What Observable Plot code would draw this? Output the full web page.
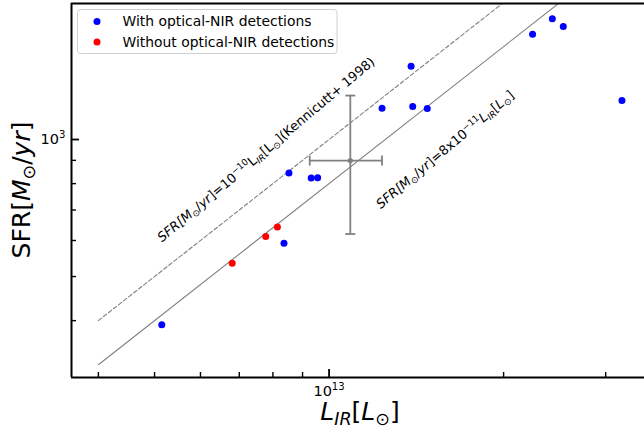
<!DOCTYPE html>
<html><head><meta charset="utf-8">
<script src="https://cdn.jsdelivr.net/npm/d3@7"></script>
<script src="https://cdn.jsdelivr.net/npm/@observablehq/plot@0.6"></script>
<style>
html,body{margin:0;padding:0;background:#fff;}
#chart{width:644px;height:441px;overflow:hidden;}
svg{font-family:"DejaVu Sans",sans-serif;}
</style></head><body><div id="chart"></div>
<script>
// ---- data ----
const withL   = [5.145e12, 8.36e12, 8.527e12, 9.315e12, 9.557e12, 1.234e13, 1.385e13, 1.394e13, 1.477e13, 2.244e13, 2.427e13, 2.535e13, 3.2e13];
const withSFR = [392, 592, 844, 823, 824, 1171, 1449, 1182, 1170, 1704, 1842, 1771, 1218];
const withoutL   = [6.806e12, 7.776e12, 8.145e12];
const withoutSFR = [535, 612, 642];
const errL = [1.088e13], errLlo = [9.26e12], errLhi = [1.234e13];
const errSFR = [899], errSFRlo = [620], errSFRhi = [1249];
const relL = [4e12, 4e13];
const kennicuttCoef = 1e-10, thisCoef = 8e-11;
const xDomain = [3.595e12, 3.5e13];
const yDomain = [300, 1990];
const xMajorTicks = [1e13];
const xMinorTicks = [4e12, 5e12, 6e12, 7e12, 8e12, 9e12, 2e13, 3e13];
const yMajorTicks = [1e3];
const yMinorTicks = [400, 500, 600, 700, 800, 900];
const legendLabels = ["With optical-NIR detections", "Without optical-NIR detections"];
const legendColors = ["blue", "red"];
const annotL = [7.79e12, 1.585e13];
const annotSFR = [950, 950];

// ---- tables ----
const withData = withL.map((L, i) => ({L, SFR: withSFR[i]}));
const withoutData = withoutL.map((L, i) => ({L, SFR: withoutSFR[i]}));
const kData = relL.map(L => ({L, SFR: kennicuttCoef * L}));
const tData = relL.map(L => ({L, SFR: thisCoef * L}));
const err = errL.map((L, i) => ({L, Llo: errLlo[i], Lhi: errLhi[i], SFR: errSFR[i], lo: errSFRlo[i], hi: errSFRhi[i]}));
const annots = annotL.map((L, i) => ({L, SFR: annotSFR[i], id: i}));

const W = 644, H = 441, mL = 71, mR = 0, mT = 3, mB = 64;
const fw = W - mL - mR, fh = H - mT - mB;
const gray = "#808080";
const hCap = {draw(ctx, size) { const r = Math.sqrt(size / Math.PI); ctx.moveTo(-r, 0); ctx.lineTo(r, 0); }};
const vCap = {draw(ctx, size) { const r = Math.sqrt(size / Math.PI); ctx.moveTo(0, -r); ctx.lineTo(0, r); }};

const plot = Plot.plot({
  width: W, height: H,
  marginLeft: mL, marginRight: mR, marginTop: mT, marginBottom: mB,
  style: {fontFamily: "DejaVu Sans", background: "white", overflow: "visible"},
  x: {type: "log", domain: xDomain, axis: null},
  y: {type: "log", domain: yDomain, axis: null},
  marks: [
    Plot.line(kData, {x: "L", y: "SFR", stroke: gray, strokeWidth: 1.1, strokeDasharray: "4,2.4", clip: true}),
    Plot.line(tData, {x: "L", y: "SFR", stroke: gray, strokeWidth: 1.1, clip: true}),
    Plot.ruleX(err, {x: "L", y1: "lo", y2: "hi", stroke: gray, strokeWidth: 1.8}),
    Plot.ruleY(err, {y: "SFR", x1: "Llo", x2: "Lhi", stroke: gray, strokeWidth: 1.8}),
    Plot.dot(err, {x: "L", y: "lo", symbol: hCap, r: 5, stroke: gray, fill: "none", strokeWidth: 1.8}),
    Plot.dot(err, {x: "L", y: "hi", symbol: hCap, r: 5, stroke: gray, fill: "none", strokeWidth: 1.8}),
    Plot.dot(err, {x: "Llo", y: "SFR", symbol: vCap, r: 5, stroke: gray, fill: "none", strokeWidth: 1.8}),
    Plot.dot(err, {x: "Lhi", y: "SFR", symbol: vCap, r: 5, stroke: gray, fill: "none", strokeWidth: 1.8}),
    Plot.dot(err, {x: "L", y: "SFR", r: 2.6, fill: gray}),
    Plot.dot(withData, {x: "L", y: "SFR", r: 3.5, fill: legendColors[0]}),
    Plot.dot(withoutData, {x: "L", y: "SFR", r: 3.5, fill: legendColors[1]}),
    // spines
    Plot.ruleX([xDomain[0]], {stroke: "black", strokeWidth: 2}),
    Plot.ruleY(yDomain, {stroke: "black", strokeWidth: 2}),
    // inward ticks
    Plot.tickX(xMinorTicks, {x: d => d, insetTop: fh - 5, stroke: "black", strokeWidth: 1.4}),
    Plot.tickX(xMajorTicks, {x: d => d, insetTop: fh - 8, stroke: "black", strokeWidth: 1.8}),
    Plot.tickY(yMinorTicks, {y: d => d, insetRight: fw - 5, stroke: "black", strokeWidth: 1.4}),
    Plot.tickY(yMajorTicks, {y: d => d, insetRight: fw - 8, stroke: "black", strokeWidth: 1.8}),
    // tick labels (exponent marker, formatted below)
    Plot.text(xMajorTicks, {x: d => d, frameAnchor: "bottom", lineAnchor: "top", dy: 8, text: d => "§e" + Math.round(Math.log10(d)), fontSize: 14.5, fill: "black"}),
    Plot.text(yMajorTicks, {y: d => d, frameAnchor: "left", textAnchor: "end", lineAnchor: "middle", dx: -6, text: d => "§e" + Math.round(Math.log10(d)), fontSize: 14.5, fill: "black"}),
    // annotations
    Plot.text(annots, {x: "L", y: "SFR", text: d => "§a" + d.id, rotate: -40, textAnchor: "middle", lineAnchor: "middle", fontSize: 13, fill: "black"})
  ]
});
document.getElementById("chart").appendChild(plot);

// ---- rich text helper (mathtext-like) ----
function setRich(el, parts, fs) {
  const t = d3.select(el);
  t.text(null);
  let shift = 0;
  for (const p of parts) {
    const target = p.sub ? fs * 0.2 : p.sup ? -fs * 0.4 : 0;
    const ts = t.append("tspan").text(p.t);
    if (target !== shift) { ts.attr("dy", target - shift); shift = target; }
    if (p.sub || p.sup) ts.attr("font-size", fs * 0.7);
    if (p.it) ts.attr("font-style", "italic");
  }
}
const annotParts = [
  [{t: "SFR[", it: true}, {t: "M", it: true}, {t: "⊙", sub: true}, {t: "/"}, {t: "yr", it: true}, {t: "]=10"}, {t: "−10", sup: true}, {t: "L"}, {t: "IR", it: true, sub: true}, {t: "[L"}, {t: "⊙", sub: true}, {t: "](Kennicutt+ 1998)"}],
  [{t: "SFR[", it: true}, {t: "M", it: true}, {t: "⊙", sub: true}, {t: "/"}, {t: "yr", it: true}, {t: "]=8x10"}, {t: "−11", sup: true}, {t: "L", it: true}, {t: "IR", it: true, sub: true}, {t: "["}, {t: "L", it: true}, {t: "⊙", sub: true}, {t: "]"}]
];
const svg = d3.select(plot);
svg.selectAll("text").each(function() {
  const s = this.textContent;
  if (s.startsWith("§e")) setRich(this, [{t: "10"}, {t: s.slice(2), sup: true}], 14.5);
  else if (s.startsWith("§a")) setRich(this, annotParts[+s.slice(2)], 13);
});

// axis labels
const xl = svg.append("text").attr("x", 360).attr("y", 420).attr("text-anchor", "middle").attr("font-size", 25).attr("fill", "black").node();
setRich(xl, [{t: "L", it: true}, {t: "IR", it: true, sub: true}, {t: "["}, {t: "L", it: true}, {t: "⊙", sub: true}, {t: "]"}], 25);
const yl = svg.append("text").attr("transform", "translate(30,190) rotate(-90)").attr("text-anchor", "middle").attr("font-size", 25).attr("fill", "black").node();
setRich(yl, [{t: "SFR"}, {t: "["}, {t: "M", it: true}, {t: "⊙", sub: true}, {t: "/"}, {t: "yr", it: true}, {t: "]"}], 25);

// legend
const lg = svg.append("g");
lg.append("rect").attr("x", 77.5).attr("y", 9.5).attr("width", 259.5).attr("height", 44).attr("rx", 3)
  .attr("fill", "white").attr("fill-opacity", 0.8).attr("stroke", "#d0d0d0").attr("stroke-width", 1);
legendLabels.forEach((lab, i) => {
  const cy = 21.5 + i * 20.5;
  lg.append("circle").attr("cx", 97).attr("cy", cy).attr("r", 3.5).attr("fill", legendColors[i]);
  lg.append("text").attr("x", 122.5).attr("y", cy).attr("dy", "0.35em").attr("text-anchor", "start")
    .attr("font-size", 13.9).attr("fill", "black").text(lab);
});
</script>
</body></html>
